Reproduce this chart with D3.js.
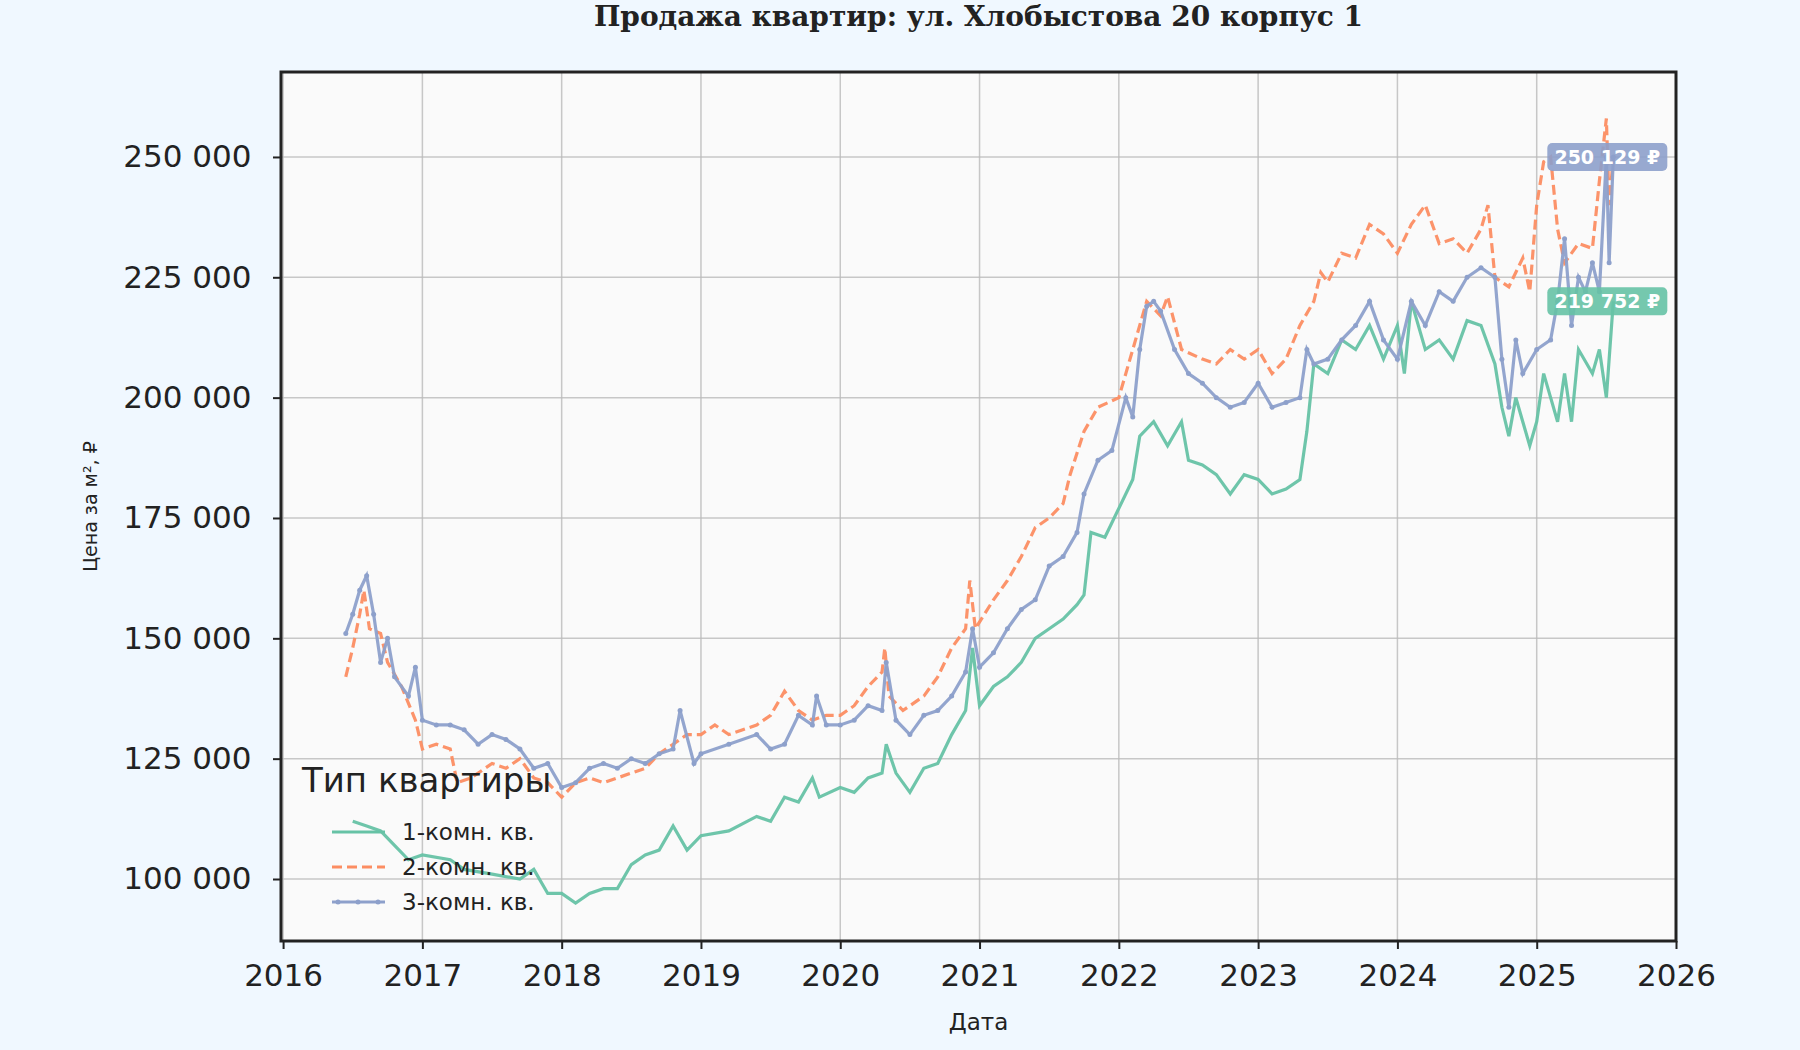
<!DOCTYPE html>
<html><head><meta charset="utf-8">
<script src="https://cdn.jsdelivr.net/npm/d3@7"></script>
<style>body{margin:0;background:#f0f8ff}svg{display:block}</style>
</head><body><svg id="c" width="1800" height="1050"></svg>
<script>
const title="Продажа квартир: ул. Хлобыстова 20 корпус 1";
const seriesNames=["1-комн. кв.","2-комн. кв.","3-комн. кв."];
const colors=["#66c2a5","#fc8d62","#8da0cb"];
const yTicks=[100000,125000,150000,175000,200000,225000,250000];
const xTicks=[2016,2017,2018,2019,2020,2021,2022,2023,2024,2025,2026];
const s1=[[2016.5,112],[2016.6,111],[2016.7,110],[2016.8,107],[2016.9,104],[2017.0,105],[2017.2,104],[2017.3,102],[2017.5,101],[2017.7,100],[2017.8,102],[2017.9,97],[2018.0,97],[2018.1,95],[2018.2,97],[2018.3,98],[2018.4,98],[2018.5,103],[2018.6,105],[2018.7,106],[2018.8,111],[2018.9,106],[2019.0,109],[2019.2,110],[2019.4,113],[2019.5,112],[2019.6,117],[2019.7,116],[2019.8,121],[2019.85,117],[2020.0,119],[2020.1,118],[2020.2,121],[2020.3,122],[2020.33,128],[2020.4,122],[2020.5,118],[2020.6,123],[2020.7,124],[2020.8,130],[2020.9,135],[2020.95,148],[2021.0,136],[2021.1,140],[2021.2,142],[2021.3,145],[2021.4,150],[2021.5,152],[2021.6,154],[2021.7,157],[2021.75,159],[2021.8,172],[2021.9,171],[2022.0,177],[2022.1,183],[2022.15,192],[2022.25,195],[2022.35,190],[2022.45,195],[2022.5,187],[2022.6,186],[2022.7,184],[2022.8,180],[2022.9,184],[2023.0,183],[2023.1,180],[2023.2,181],[2023.3,183],[2023.35,193],[2023.4,207],[2023.5,205],[2023.6,212],[2023.7,210],[2023.8,215],[2023.9,208],[2024.0,215],[2024.05,205],[2024.1,220],[2024.2,210],[2024.3,212],[2024.4,208],[2024.5,216],[2024.6,215],[2024.7,207],[2024.75,198],[2024.8,192],[2024.85,200],[2024.9,195],[2024.95,190],[2025.0,195],[2025.05,205],[2025.1,200],[2025.15,195],[2025.2,205],[2025.25,195],[2025.3,210],[2025.4,205],[2025.45,210],[2025.5,200],[2025.55,220]];
const s2=[[2016.45,142],[2016.5,148],[2016.55,155],[2016.58,160],[2016.62,152],[2016.7,151],[2016.75,145],[2016.85,140],[2016.95,133],[2017.0,127],[2017.1,128],[2017.2,127],[2017.25,120],[2017.35,121],[2017.5,124],[2017.6,123],[2017.7,125],[2017.8,121],[2017.9,120],[2018.0,117],[2018.1,120],[2018.2,121],[2018.3,120],[2018.4,121],[2018.5,122],[2018.6,123],[2018.7,126],[2018.8,128],[2018.9,130],[2019.0,130],[2019.1,132],[2019.2,130],[2019.3,131],[2019.4,132],[2019.5,134],[2019.6,139],[2019.7,135],[2019.8,133],[2019.9,134],[2020.0,134],[2020.1,136],[2020.2,140],[2020.3,143],[2020.32,148],[2020.35,138],[2020.45,135],[2020.6,138],[2020.7,142],[2020.8,148],[2020.9,152],[2020.93,162],[2020.97,152],[2021.1,158],[2021.2,162],[2021.3,167],[2021.4,173],[2021.5,175],[2021.6,178],[2021.65,184],[2021.75,193],[2021.85,198],[2022.0,200],[2022.05,205],[2022.1,210],[2022.15,215],[2022.2,220],[2022.3,217],[2022.35,221],[2022.45,210],[2022.6,208],[2022.7,207],[2022.8,210],[2022.9,208],[2023.0,210],[2023.1,205],[2023.2,208],[2023.3,215],[2023.4,220],[2023.45,226],[2023.5,224],[2023.6,230],[2023.7,229],[2023.8,236],[2023.9,234],[2024.0,230],[2024.1,236],[2024.2,240],[2024.3,232],[2024.4,233],[2024.5,230],[2024.6,235],[2024.65,240],[2024.7,225],[2024.8,223],[2024.9,229],[2024.95,222],[2025.0,240],[2025.05,249],[2025.1,250],[2025.15,235],[2025.2,228],[2025.3,232],[2025.4,231],[2025.45,245],[2025.5,258],[2025.52,240],[2025.55,250]];
const s3=[[2016.45,151],[2016.5,155],[2016.55,160],[2016.6,163],[2016.65,155],[2016.7,145],[2016.75,150],[2016.8,142],[2016.9,138],[2016.95,144],[2017.0,133],[2017.1,132],[2017.2,132],[2017.3,131],[2017.4,128],[2017.5,130],[2017.6,129],[2017.7,127],[2017.8,123],[2017.9,124],[2018.0,119],[2018.1,120],[2018.2,123],[2018.3,124],[2018.4,123],[2018.5,125],[2018.6,124],[2018.7,126],[2018.8,127],[2018.85,135],[2018.95,124],[2019.0,126],[2019.2,128],[2019.4,130],[2019.5,127],[2019.6,128],[2019.7,134],[2019.8,132],[2019.83,138],[2019.9,132],[2020.0,132],[2020.1,133],[2020.2,136],[2020.3,135],[2020.33,145],[2020.4,133],[2020.5,130],[2020.6,134],[2020.7,135],[2020.8,138],[2020.9,143],[2020.95,152],[2021.0,144],[2021.1,147],[2021.2,152],[2021.3,156],[2021.4,158],[2021.5,165],[2021.6,167],[2021.7,172],[2021.75,180],[2021.85,187],[2021.95,189],[2022.05,200],[2022.1,196],[2022.15,210],[2022.2,219],[2022.25,220],[2022.3,218],[2022.4,210],[2022.5,205],[2022.6,203],[2022.7,200],[2022.8,198],[2022.9,199],[2023.0,203],[2023.1,198],[2023.2,199],[2023.3,200],[2023.35,210],[2023.4,207],[2023.5,208],[2023.6,212],[2023.7,215],[2023.8,220],[2023.9,212],[2024.0,208],[2024.1,220],[2024.2,215],[2024.3,222],[2024.4,220],[2024.5,225],[2024.6,227],[2024.7,225],[2024.75,208],[2024.8,198],[2024.85,212],[2024.9,205],[2025.0,210],[2025.1,212],[2025.15,220],[2025.2,233],[2025.25,215],[2025.3,225],[2025.35,222],[2025.4,228],[2025.45,222],[2025.5,250],[2025.52,228],[2025.55,250]];
const lastLabels=["219 752 ₽","250 129 ₽"];

const svg=d3.select("#c");
const m={l:281,r:1676,t:72,b:941};
const x=d3.scaleLinear().domain([2015.985,2026.0]).range([m.l,m.r]);
const y=d3.scaleLinear().domain([87120,267650]).range([m.b,m.t]);
svg.append("rect").attr("x",m.l).attr("y",m.t).attr("width",m.r-m.l).attr("height",m.b-m.t).attr("fill","#fafafa");
const g=svg.append("g");
xTicks.forEach(t=>g.append("line").attr("x1",x(t)).attr("x2",x(t)).attr("y1",m.t).attr("y2",m.b).attr("stroke","#bbb").attr("stroke-width",1.5).attr("opacity",0.8));
yTicks.forEach(t=>g.append("line").attr("y1",y(t)).attr("y2",y(t)).attr("x1",m.l).attr("x2",m.r).attr("stroke","#bbb").attr("stroke-width",1.5).attr("opacity",0.8));
const line=d3.line().x(d=>x(d[0])).y(d=>y(d[1]*1000));
[s1,s2,s3].forEach((s,i)=>{
  g.append("path").attr("d",line(s)).attr("fill","none").attr("stroke",colors[i]).attr("stroke-width",3.2)
   .attr("stroke-dasharray",i==1?"10,5":null).attr("opacity",0.95);
});
g.selectAll(".dot").data(s3).enter().append("circle").attr("cx",d=>x(d[0])).attr("cy",d=>y(d[1]*1000)).attr("r",2.5).attr("fill",colors[2]);
const fs="'DejaVu Sans',sans-serif";
const xa=svg.append("g").attr("transform",`translate(0,${m.b})`).call(d3.axisBottom(x).tickValues(xTicks).tickFormat(d3.format("d")).tickSize(8));
const ya=svg.append("g").attr("transform",`translate(${m.l},0)`).call(d3.axisLeft(y).tickValues(yTicks).tickFormat(d=>d3.format(",")(d).replace(/,/g," ")).tickSize(8));
[xa,ya].forEach(a=>{a.select(".domain").remove();a.selectAll("line").attr("stroke","#222").attr("stroke-width",2);a.selectAll("text").attr("font-family",fs).attr("font-size",31).attr("fill","#222");});
xa.selectAll("text").attr("dy","1.1em");ya.selectAll("text").attr("dx","-0.6em");
svg.append("rect").attr("x",m.l).attr("y",m.t).attr("width",m.r-m.l).attr("height",m.b-m.t).attr("fill","none").attr("stroke","#222").attr("stroke-width",3);
svg.append("text").attr("x",(m.l+m.r)/2).attr("y",26).attr("text-anchor","middle").attr("font-family","'DejaVu Serif',serif").attr("font-weight","bold").attr("font-size",28).attr("fill","#222").text(title);
svg.append("text").attr("x",(m.l+m.r)/2).attr("y",1030).attr("text-anchor","middle").attr("font-family",fs).attr("font-size",23).attr("fill","#222").text("Дата");
svg.append("text").attr("transform",`translate(97,${(m.t+m.b)/2}) rotate(-90)`).attr("text-anchor","middle").attr("font-family",fs).attr("font-size",19).attr("fill","#222").text("Цена за м², ₽");
[[s1,0,lastLabels[0]],[s3,2,lastLabels[1]]].forEach(([s,i,t])=>{
  const p=s[s.length-1];const cx=x(p[0]),cy=y(p[1]*1000);
  const w=120,h=28;
  svg.append("rect").attr("x",cx-66).attr("y",cy-h/2).attr("width",w).attr("height",h).attr("rx",5).attr("fill",colors[i]).attr("opacity",0.9);
  svg.append("text").attr("x",cx-6).attr("y",cy+7).attr("text-anchor","middle").attr("font-family",fs).attr("font-weight","bold").attr("font-size",19).attr("fill","#fff").text(t);
});
const lg=svg.append("g").attr("transform","translate(302,780)");
lg.append("text").attr("x",0).attr("y",12).attr("font-family",fs).attr("font-size",34).attr("fill","#222").text("Тип квартиры");
seriesNames.forEach((n,i)=>{
  const yy=52+i*35;
  lg.append("line").attr("x1",30).attr("x2",83).attr("y1",yy).attr("y2",yy).attr("stroke",colors[i]).attr("stroke-width",3.2).attr("stroke-dasharray",i==1?"10,5":null);
  if(i==2){[36,56,76].forEach(cx=>lg.append("circle").attr("cx",cx).attr("cy",yy).attr("r",2.5).attr("fill",colors[i]));}
  lg.append("text").attr("x",100).attr("y",yy+8).attr("font-family",fs).attr("font-size",23).attr("fill","#222").text(n);
});
</script></body></html>
